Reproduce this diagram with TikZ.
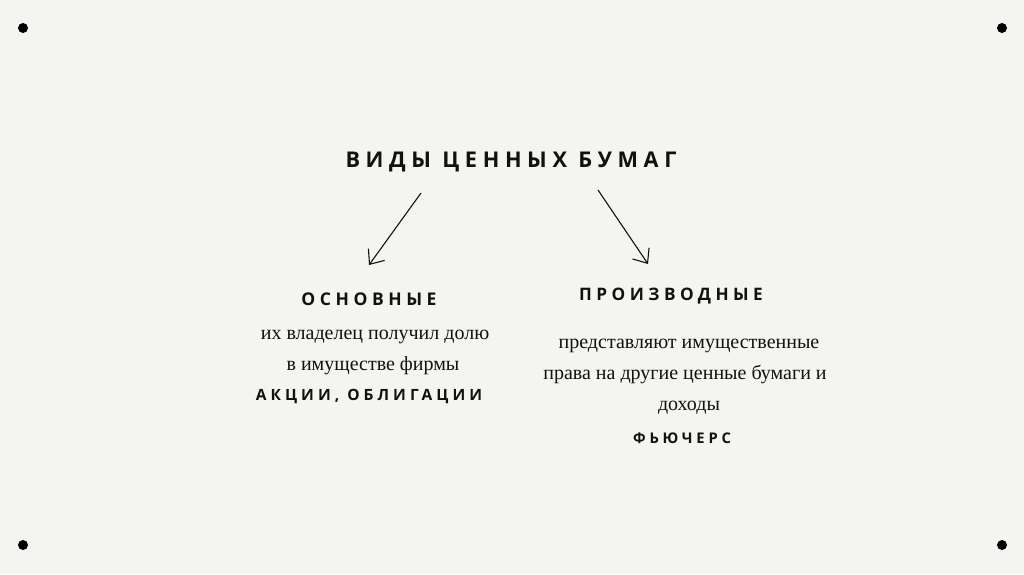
\documentclass[tikz,border=0pt]{standalone}
\usepackage{fontspec}
\setmainfont{Liberation Serif}
\newfontfamily\headfont[LetterSpace=26]{Open Sans}
\usetikzlibrary{arrows.meta}
\definecolor{bgc}{HTML}{F4F4F0}
\definecolor{ink}{HTML}{111111}
\begin{document}
\begin{tikzpicture}[x=1pt,y=-1pt,
  head/.style={text=ink, inner sep=0pt, anchor=base},
  body/.style={font=\fontsize{20}{24}\selectfont, text=ink, inner sep=0pt, anchor=base},
  sketch/.style={draw=ink, line width=1.1pt, -{Straight Barb[length=12pt,width=20pt,line width=1.1pt]}},
  dot/.style={fill=black, draw=none, circle, minimum size=10pt, inner sep=0pt}]
\fill[bgc] (0,0) rectangle (1024,574);
\useasboundingbox (0,0) rectangle (1024,574);
\node[dot] (d1) at (23,28) {};
\node[dot] (d2) at (1002,28) {};
\node[dot] (d3) at (23,545) {};
\node[dot] (d4) at (1002,545) {};
\node[head, font=\headfont\bfseries\fontsize{21.7}{24}\selectfont] (title) at (511,167) {ВИДЫ ЦЕННЫХ БУМАГ};
\coordinate (a1s) at (421,193);
\coordinate (a1e) at (369,265);
\coordinate (a2s) at (598,190);
\coordinate (a2e) at (648,264);
\draw[sketch] (a1s) -- (a1e);
\draw[sketch] (a2s) -- (a2e);
\node[head, font=\headfont\bfseries\fontsize{17.5}{20}\selectfont] (osn) at (369,305) {ОСНОВНЫЕ};
\node[body] (osn1) at (375,339) {их владелец получил долю};
\node[body] (osn2) at (373,370) {в имуществе фирмы};
\node[head, font=\headfont\bfseries\fontsize{15.5}{18}\selectfont] (ak) at (369,400) {АКЦИИ, ОБЛИГАЦИИ};
\node[head, font=\headfont\bfseries\fontsize{17.2}{20}\selectfont] (pr) at (671,300) {ПРОИЗВОДНЫЕ};
\node[body] (pr1) at (689,348) {представляют имущественные};
\node[body] (pr2) at (685,379) {права на другие ценные бумаги и};
\node[body] (pr3) at (689,410) {доходы};
\node[head, font=\headfont\bfseries\fontsize{14.7}{17}\selectfont] (fu) at (682,443) {ФЬЮЧЕРС};
\end{tikzpicture}
\end{document}
